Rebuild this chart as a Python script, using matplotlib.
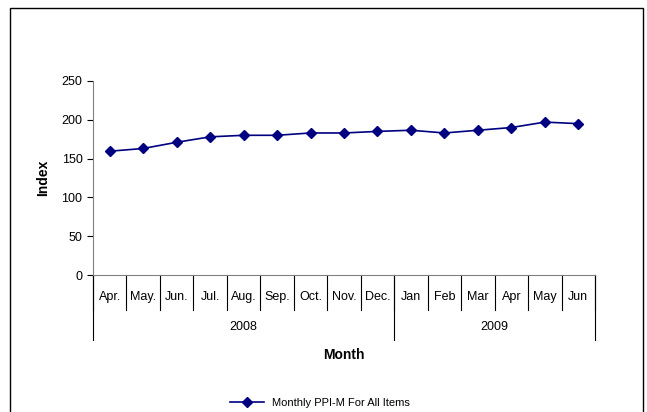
import matplotlib
matplotlib.use('Agg')
import matplotlib.pyplot as plt
from matplotlib.patches import Rectangle

plt.rcParams['font.family'] = ['Liberation Sans', 'DejaVu Sans']

months = ['Apr.', 'May.', 'Jun.', 'Jul.', 'Aug.', 'Sep.', 'Oct.', 'Nov.', 'Dec.',
          'Jan', 'Feb', 'Mar', 'Apr', 'May', 'Jun']
years = ['2008', '2009']
year_counts = [9, 6]
ppi = [159.5, 163, 171, 178, 180, 180, 183, 183, 185, 186.5, 183, 186.5, 190, 197, 195]

fig = plt.figure(figsize=(6.47, 4.12), dpi=100)
fig.patches.append(Rectangle((10 / 647, -0.01), 633 / 647, (412 - 8) / 412 + 0.01,
                             transform=fig.transFigure, fill=False, edgecolor='black', lw=1))
ax = fig.add_axes([0.1437, 0.3325, 0.776, 0.471])

x = list(range(len(months)))
line, = ax.plot(x, ppi, color='#000080', marker='D', markersize=5, lw=1.2,
                label='Monthly PPI-M For All Items')
ax.set_xlim(-0.5, len(months) - 0.5)
ax.set_ylim(0, 250)
ax.set_yticks([0, 50, 100, 150, 200, 250])
ax.tick_params(axis='y', labelsize=9, length=4, direction='out')
ax.set_xticks([])
for s in ['top', 'right']:
    ax.spines[s].set_visible(False)
ax.spines['left'].set_color('#808080')
ax.spines['bottom'].set_color('#808080')
ax.set_ylabel('Index', fontsize=10, fontweight='bold', labelpad=8)

tr = ax.get_xaxis_transform()
# month boxes
for i, m in enumerate(months):
    ax.text(i, -0.113, m, transform=tr, ha='center', va='center', fontsize=9)
for i in range(len(months) + 1):
    ax.plot([i - 0.5, i - 0.5], [0, -0.18], transform=tr, color='black', lw=0.8, clip_on=False)
# year groups
start = 0
for yr, n in zip(years, year_counts):
    ax.text(start + n / 2 - 0.5, -0.268, yr, transform=tr, ha='center', va='center', fontsize=9)
    start += n
edges = [0]
for n in year_counts:
    edges.append(edges[-1] + n)
for e in edges:
    ax.plot([e - 0.5, e - 0.5], [0, -0.335], transform=tr, color='black', lw=0.8, clip_on=False)

ax.text(0.5, -0.41, 'Month', transform=ax.transAxes, ha='center', va='center',
        fontsize=10, fontweight='bold')

fig.legend(handles=[line], loc='center', bbox_to_anchor=(0.495, 0.022), frameon=False,
           fontsize=8, handlelength=3)

fig.savefig('out.png', dpi=100)
